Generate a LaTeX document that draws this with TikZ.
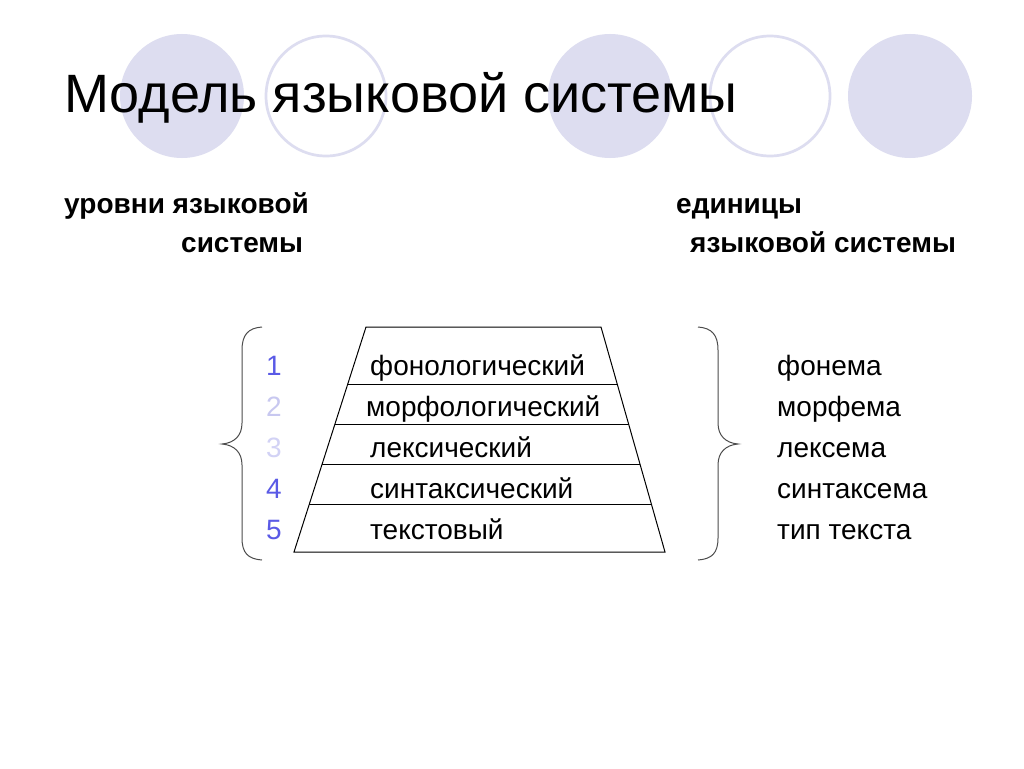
\documentclass[tikz,border=0pt]{standalone}
\usepackage{fontspec}
\setmainfont{Liberation Sans}
\usetikzlibrary{calc}
\begin{document}
\begin{tikzpicture}[x=1pt,y=-1pt,
  disc/.style={fill=lav,draw=none},
  ring/.style={draw=lav,line width=2.7pt},
  title/.style={anchor=base west,inner sep=0pt,font=\fontsize{54}{56}\selectfont},
  head/.style={anchor=base west,inner sep=0pt,font=\fontsize{28}{30}\selectfont\bfseries},
  lvl/.style={anchor=base west,inner sep=0pt,font=\fontsize{28}{30}\selectfont},
  num/.style={anchor=base west,inner sep=0pt,font=\fontsize{28}{30}\selectfont},
  rule/.style={draw=black,line width=1pt},
  brace/.style={draw=black!70,line width=1pt}]
\definecolor{lav}{RGB}{221,221,240}
\definecolor{numA}{RGB}{90,90,230}
\definecolor{numB}{RGB}{200,200,240}
\definecolor{numC}{RGB}{210,210,245}
\useasboundingbox[fill=white] (0,0) rectangle (1024,768);
% circles
\fill[disc] (182,96) circle (62);
\draw[ring] (326,96) circle (60);
\fill[disc] (610,96) circle (62);
\draw[ring] (770,96) circle (60);
\fill[disc] (910,96) circle (62);
% title
\node[title] (t) at (64,112) {Модель языковой системы};
% headers
\node[head] (h1) at (64,213) {уровни языковой};
\node[head] (h2) at (181,252) {системы};
\node[head] (h3) at (676,213) {единицы};
\node[head] (h4) at (690,252) {языковой системы};
% trapezoid
\coordinate (tl) at (366,327);
\coordinate (tr) at (601,327);
\coordinate (bl) at (294,552);
\coordinate (br) at (665,552);
\draw[rule] (tl) -- (tr) -- (br) -- (bl) -- cycle;
\foreach \y in {384,424,464,504}{
  \pgfmathsetmacro{\f}{(\y-327)/225}
  \draw[rule] ($(tl)!\f!(bl)$) -- ($(tr)!\f!(br)$);
}
% levels
\node[lvl] (l1) at (370,375) {фонологический};
\node[lvl] (l2) at (366,416) {морфологический};
\node[lvl] (l3) at (370,457) {лексический};
\node[lvl] (l4) at (370,498) {синтаксический};
\node[lvl] (l5) at (370,539) {текстовый};
% numbers
\node[num,text=numA] (n1) at (266,375) {1};
\node[num,text=numB] (n2) at (266,416) {2};
\node[num,text=numC] (n3) at (266,457) {3};
\node[num,text=numA] (n4) at (266,498) {4};
\node[num,text=numA] (n5) at (266,539) {5};
% units
\node[lvl] (u1) at (777,375) {фонема};
\node[lvl] (u2) at (777,416) {морфема};
\node[lvl] (u3) at (777,457) {лексема};
\node[lvl] (u4) at (777,498) {синтаксема};
\node[lvl] (u5) at (777,539) {тип текста};
% braces
\draw[brace] (262,327) .. controls (248,328) and (242,335) .. (242,350) -- (242,423)
  .. controls (242,436) and (234,443) .. (222,444)
  .. controls (234,445) and (242,452) .. (242,465) -- (242,538)
  .. controls (242,553) and (248,559) .. (262,560);
\draw[brace] (698,327) .. controls (712,328) and (718,335) .. (718,350) -- (718,423)
  .. controls (718,436) and (726,443) .. (738,444)
  .. controls (726,445) and (718,452) .. (718,465) -- (718,538)
  .. controls (718,553) and (712,559) .. (698,560);
\end{tikzpicture}
\end{document}
